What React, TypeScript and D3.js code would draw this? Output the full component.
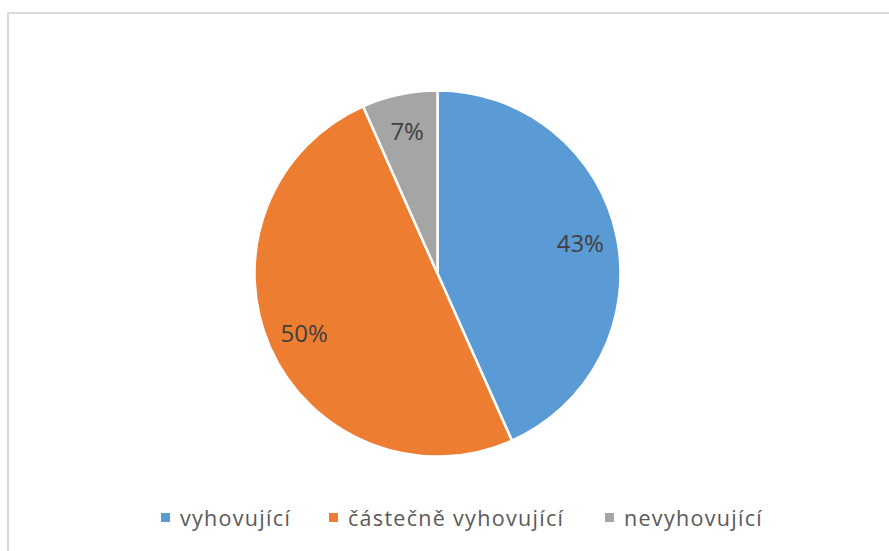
import React from 'react';
import * as d3 from 'd3';

const categories = ['vyhovující', 'částečně vyhovující', 'nevyhovující'];
const counts = [13, 15, 2];
const colors = ['#5b9bd5', '#ed7d31', '#a5a5a5'];

const width = 889;
const height = 551;

export default function App() {
  const cx = 437.5;
  const cy = 273.5;
  const radius = 183;

  const total = d3.sum(counts);
  const pie = d3.pie<number>().sort(null).value(d => d);
  const arcs = pie(counts);

  const arc = d3.arc<d3.PieArcDatum<number>>()
    .innerRadius(0)
    .outerRadius(radius);

  const labelArc = d3.arc<d3.PieArcDatum<number>>()
    .innerRadius(146)
    .outerRadius(146);

  const pct = d3.format('.0%');

  // legend layout
  const legendY = 526;
  const legendX = [161, 329, 605];

  return (
    <svg width={width} height={height} style={{ position: 'absolute', left: 0, top: 0, fontFamily: '"Open Sans", sans-serif' }}>
      <rect x={0} y={0} width={width} height={height} fill="#fff" />
      <rect x={8} y={13} width={width + 10} height={height + 10} fill="#fff" stroke="#d9d9d9" strokeWidth={2} />
      <g transform={`translate(${cx}, ${cy})`}>
        {arcs.map((d, i) => (
          <path key={categories[i]} d={arc(d) || ''} fill={colors[i]} stroke="#fff" strokeWidth={2.5} />
        ))}
        {arcs.map((d, i) => {
          const [lx, ly] = labelArc.centroid(d);
          return (
            <text key={'l' + i} x={lx} y={ly + 9} textAnchor="middle"
              fontSize={24} fill="#404040">
              {pct(d.data / total)}
            </text>
          );
        })}
      </g>
      <g>
        {categories.map((c, i) => (
          <g key={c} transform={`translate(${legendX[i]}, ${legendY})`}>
            <rect x={0} y={-13} width={9} height={9} fill={colors[i]} />
            <text x={19} y={0} fontSize={21.5} letterSpacing={1.3} fill="#595959">{c}</text>
          </g>
        ))}
      </g>
    </svg>
  );
}
